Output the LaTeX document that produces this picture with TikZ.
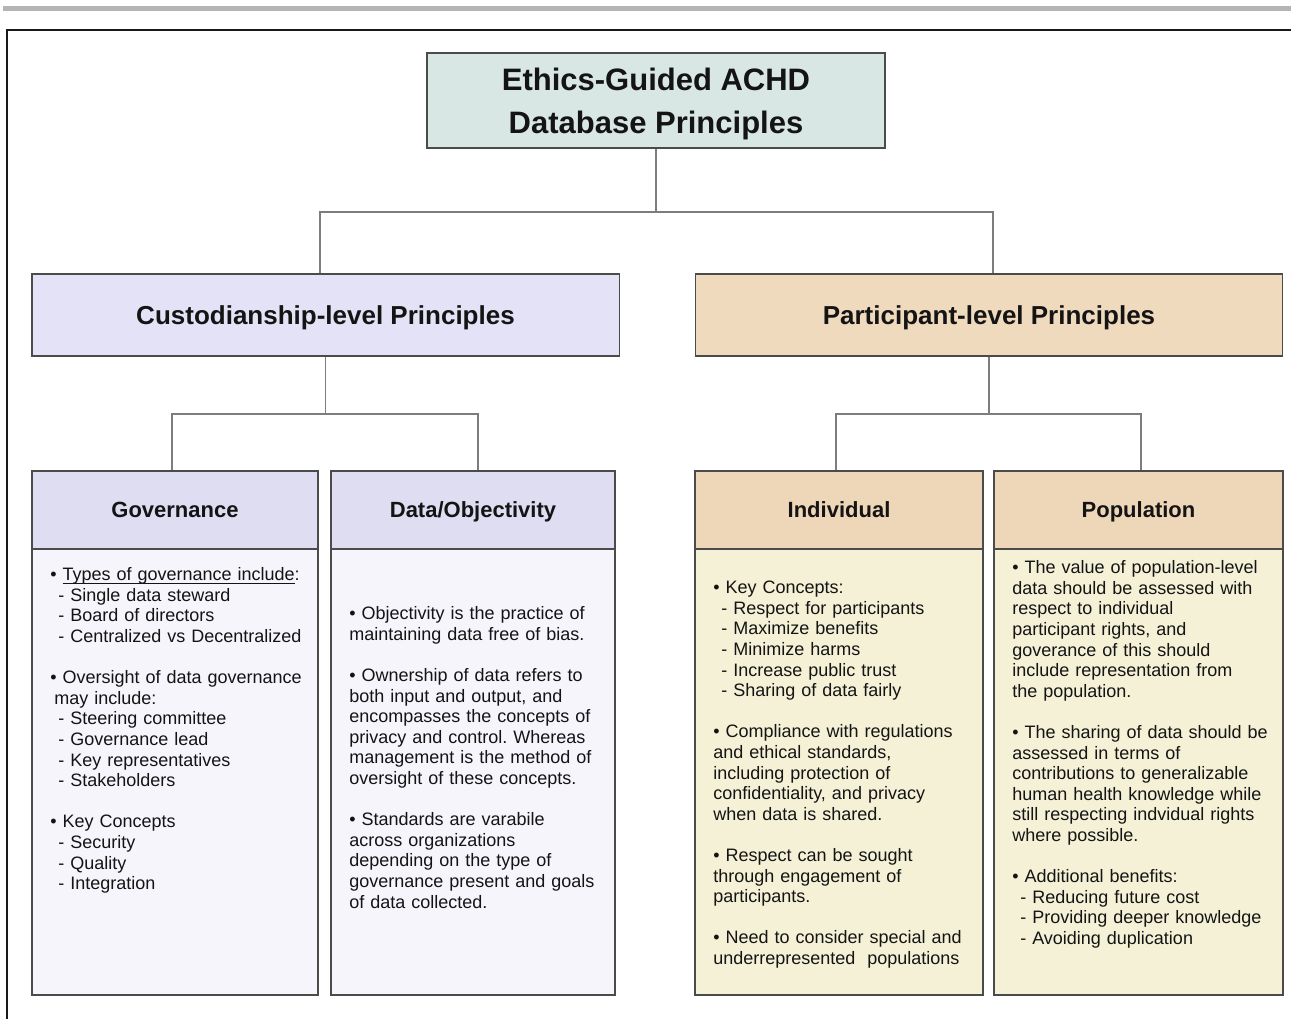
\documentclass[tikz,border=0pt]{standalone}
\usepackage{fontspec}
\setmainfont{Liberation Sans}
\usetikzlibrary{shadows}
\setlength\parindent{0pt}
\frenchspacing

\definecolor{topbar}{RGB}{180,180,180}
\definecolor{framecol}{RGB}{25,25,25}
\definecolor{boxline}{RGB}{75,75,75}
\definecolor{linkcol}{RGB}{125,125,125}
\definecolor{titlefill}{RGB}{217,231,228}
\definecolor{custfill}{RGB}{228,226,246}
\definecolor{partfill}{RGB}{240,218,189}
\definecolor{custhead}{RGB}{222,221,242}
\definecolor{custbody}{RGB}{246,245,252}
\definecolor{parthead}{RGB}{238,215,185}
\definecolor{partbody}{RGB}{244,241,214}
\definecolor{ink}{RGB}{20,20,20}

% line spacing of the column texts
\newlength\bls
\setlength\bls{15.45pt}
% first-line strut, sub-item dash and underline helpers
\newcommand\fl{\rule{0pt}{10pt}}
\newcommand\dashitem{\hspace*{6pt}-\ }
\newcommand\ulin[1]{\setbox0\hbox{#1}\rlap{\rule[-2.2pt]{\wd0}{0.6pt}}\box0}

\begin{document}
\begin{tikzpicture}[x=0.75pt,y=-0.75pt, text=ink,
  box/.style={draw=boxline, line width=1.1pt, inner sep=0pt,
    drop shadow={shadow xshift=0pt, shadow yshift=-1.1pt, fill=black, opacity=0.35}},
  titlebox/.style={box, fill=titlefill, minimum width=343.5pt, minimum height=71.25pt},
  titletext/.style={align=center, inner sep=0pt,
    font=\fontsize{23.25pt}{32.25pt}\selectfont\bfseries},
  levelbox/.style={box, minimum width=440.6pt, minimum height=61.5pt,
    text height=14pt, text depth=0pt,
    font=\fontsize{19.5pt}{23pt}\selectfont\bfseries},
  headbox/.style={box, minimum height=58.5pt, text height=11.8pt, text depth=0pt,
    font=\fontsize{16.5pt}{20pt}\selectfont\bfseries},
  bodybox/.style={box, minimum height=334.5pt},
  bodytext/.style={anchor=north west, inner sep=0pt, text width=210pt, align=left,
    font=\fontsize{13.5pt}{15.45pt}\selectfont},
  link/.style={draw=linkcol, line width=1.1pt}]

\useasboundingbox (0,0) rectangle (1291,1019);

% page rule and frame
\fill[topbar] (3,6) rectangle (1291,11);
\draw[framecol, line width=1.5pt] (7,1019) -- (7,30) -- (1291,30);

% top level
\node[titlebox] (title) at (656,100.5) {};
\node[titletext] (titlelabel) at (656,103.5) {Ethics-Guided ACHD\\Database Principles};

% second level
\node[levelbox, fill=custfill] (cust) at (325.5,315) {Custodianship-level Principles};
\node[levelbox, fill=partfill] (part) at (989,315) {Participant-level Principles};

% column bodies
\node[bodybox, fill=custbody, minimum width=214.5pt] (govbody) at (175,772) {};
\node[bodybox, fill=custbody, minimum width=213pt] (databody) at (473,772) {};
\node[bodybox, fill=partbody, minimum width=216pt] (indbody) at (839,772) {};
\node[bodybox, fill=partbody, minimum width=216.75pt] (popbody) at (1138.5,772) {};

% column headers
\node[headbox, fill=custhead, minimum width=214.5pt] (gov) at (175,510) {Governance};
\node[headbox, fill=custhead, minimum width=213pt] (data) at (473,510) {Data/Objectivity};
\node[headbox, fill=parthead, minimum width=216pt] (ind) at (839,510) {Individual};
\node[headbox, fill=parthead, minimum width=216.75pt] (pop) at (1138.5,510) {Population};

% connectors (drops sit slightly off the box centres)
\coordinate (j1) at (656,212);
\coordinate (j2) at (325.5,414);
\coordinate (j3) at (989,414);
\draw[link] (title.south) -- (j1);
\draw[link] ([xshift=-4.1pt]cust.north) |- (j1) -| ([xshift=3pt]part.north);
\draw[link] (cust.south) -- (j2);
\draw[link] ([xshift=-2.25pt]gov.north) |- (j2) -| ([xshift=3.75pt]data.north);
\draw[link] (part.south) -- (j3);
\draw[link] ([xshift=-2.25pt]ind.north) |- (j3) -| ([xshift=1.9pt]pop.north);

% column texts
\node[bodytext] (govtext) at (50,567) {\fl•\ \ulin{Types of governance include}:\\
\dashitem Single data steward\\
\dashitem Board of directors\\
\dashitem Centralized vs Decentralized\\[\bls]
•\ Oversight of data governance\\
\hspace*{3pt}may include:\\
\dashitem Steering committee\\
\dashitem Governance lead\\
\dashitem Key representatives\\
\dashitem Stakeholders\\[\bls]
•\ Key Concepts\\
\dashitem Security\\
\dashitem Quality\\
\dashitem Integration};

\node[bodytext] (datatext) at (349,606) {\fl•\ Objectivity is the practice of\\
maintaining data free of bias.\\[\bls]
•\ Ownership of data refers to\\
both input and output, and\\
encompasses the concepts of\\
privacy and control. Whereas\\
management is the method of\\
oversight of these concepts.\\[\bls]
•\ Standards are varabile\\
across organizations\\
depending on the type of\\
governance present and goals\\
of data collected.};

\node[bodytext] (indtext) at (713,580) {\fl•\ Key Concepts:\\
\dashitem Respect for participants\\
\dashitem Maximize benefits\\
\dashitem Minimize harms\\
\dashitem Increase public trust\\
\dashitem Sharing of data fairly\\[\bls]
•\ Compliance with regulations\\
and ethical standards,\\
including protection of\\
confidentiality, and privacy\\
when data is shared.\\[\bls]
•\ Respect can be sought\\
through engagement of\\
participants.\\[\bls]
•\ Need to consider special and\\
underrepresented\ \ populations};

\node[bodytext] (poptext) at (1012,560) {\fl•\ The value of population-level\\
data should be assessed with\\
respect to individual\\
participant rights, and\\
goverance of this should\\
include representation from\\
the population.\\[\bls]
•\ The sharing of data should be\\
assessed in terms of\\
contributions to generalizable\\
human health knowledge while\\
still respecting indvidual rights\\
where possible.\\[\bls]
•\ Additional benefits:\\
\dashitem Reducing future cost\\
\dashitem Providing deeper knowledge\\
\dashitem Avoiding duplication};

\end{tikzpicture}
\end{document}
